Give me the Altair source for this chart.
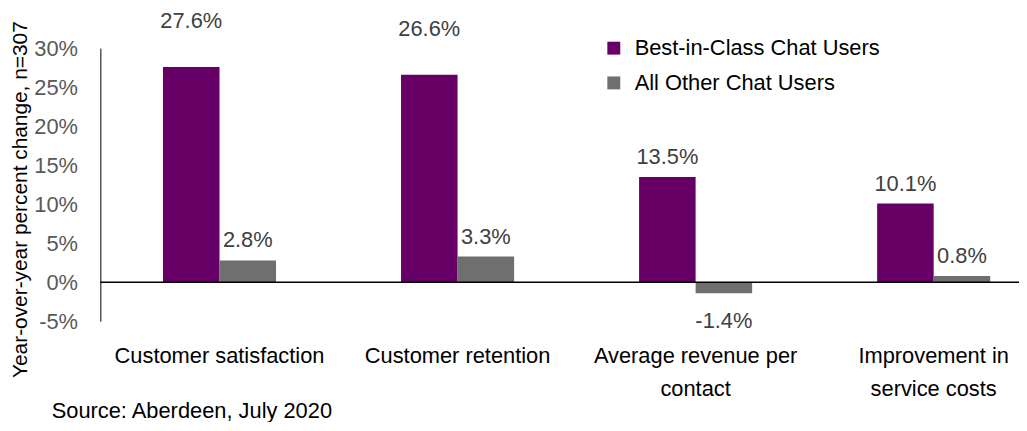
import altair as alt
import pandas as pd

categories = [
    "Customer satisfaction",
    "Customer retention",
    "Average revenue per\ncontact",
    "Improvement in\nservice costs",
]
series = ["Best-in-Class Chat Users", "All Other Chat Users"]
best_in_class = [27.6, 26.6, 13.5, 10.1]
all_other = [2.8, 3.3, -1.4, 0.8]
colors = ["#660066", "#6f6f6f"]
y_ticks = [-5, 0, 5, 10, 15, 20, 25, 30]
y_title = "Year-over-year percent change, n=307"
source_note = "Source: Aberdeen, July 2020"

rows = []
for i, c in enumerate(categories):
    rows.append({"category": c, "series": series[0], "value": best_in_class[i]})
    rows.append({"category": c, "series": series[1], "value": all_other[i]})
df = pd.DataFrame(rows)
df["label"] = df["value"].map(lambda v: f"{v:.1f}%")

FONT = "Liberation Sans"
y_scale = alt.Scale(domain=[-5, 30], nice=False, zero=False)

x_enc = alt.X(
    "category:N",
    sort=categories,
    scale=alt.Scale(paddingInner=0.525, paddingOuter=0.192, align=0.685),
    axis=alt.Axis(
        title=None,
        labelAngle=0,
        labelExpr="split(datum.label, '\\n')",
        labelFont=FONT,
        labelFontSize=22,
        labelColor="black",
        labelPadding=25,
        labelLineHeight=33,
        labelBaseline="top",
        labelLimit=0,
        labelOverlap=False,
        ticks=False,
        domain=False,
        grid=False,
    ),
)
xo_enc = alt.XOffset("series:N", sort=series, scale=alt.Scale(paddingInner=0, paddingOuter=0))
y_enc = alt.Y(
    "value:Q",
    scale=y_scale,
    axis=alt.Axis(
        title=y_title,
        values=y_ticks,
        labelExpr="datum.value + '%'",
        labelFont=FONT,
        labelFontSize=22,
        labelColor="#595959",
        labelPadding=23,
        labelOverlap=False,
        labelLimit=0,
        ticks=False,
        grid=False,
        domain=True,
        domainColor="black",
        domainWidth=1,
        titleFont=FONT,
        titleFontSize=21,
        titleFontWeight="normal",
        titleColor="black",
        titleAngle=270,
        titleX=-80,
        titleY=152,
        titleAlign="center",
        titleBaseline="middle",
        titleLimit=0,
    ),
)

base = alt.Chart(df)

bars = base.mark_bar().encode(
    x=x_enc,
    xOffset=xo_enc,
    y=y_enc,
    color=alt.Color(
        "series:N",
        sort=series,
        scale=alt.Scale(domain=series, range=colors),
        legend=alt.Legend(
            title=None,
            orient="none",
            legendX=506,
            legendY=-11,
            symbolType="square",
            symbolSize=169,
            symbolStrokeWidth=0,
            labelFont=FONT,
            labelFontSize=22,
            labelColor="black",
            labelOffset=10,
            labelLimit=0,
            rowPadding=13,
        ),
    ),
)

zero_rule = alt.Chart(pd.DataFrame({"value": [0]})).mark_rule(color="black", strokeWidth=1.5).encode(
    y=y_enc
)


def labels(cond, dy):
    return base.transform_filter(cond).mark_text(
        font=FONT, fontSize=22, color="#404040", baseline="middle", dy=dy
    ).encode(x=x_enc, xOffset=xo_enc, y=y_enc, text="label:N")


lab_high = labels(alt.datum.value >= 20, -46)
lab_mid = labels((alt.datum.value < 20) & (alt.datum.value >= 0), -20)
lab_neg = labels(alt.datum.value < 0, 28)

source = alt.Chart(pd.DataFrame({"t": [source_note]})).mark_text(
    font=FONT, fontSize=22, color="black", align="left", baseline="middle"
).encode(x=alt.value(-49), y=alt.value(365), text="t:N")

chart = (
    alt.layer(bars, zero_rule, lab_high, lab_mid, lab_neg, source)
    .properties(
        width=925,
        height=275,
        autosize=alt.AutoSizeParams(type="none"),
        padding={"left": 93, "top": 39, "right": 0, "bottom": 100},
    )
    .configure_view(stroke=None)
)

chart.save("out.html", embed_options={"renderer": "svg", "actions": False})
